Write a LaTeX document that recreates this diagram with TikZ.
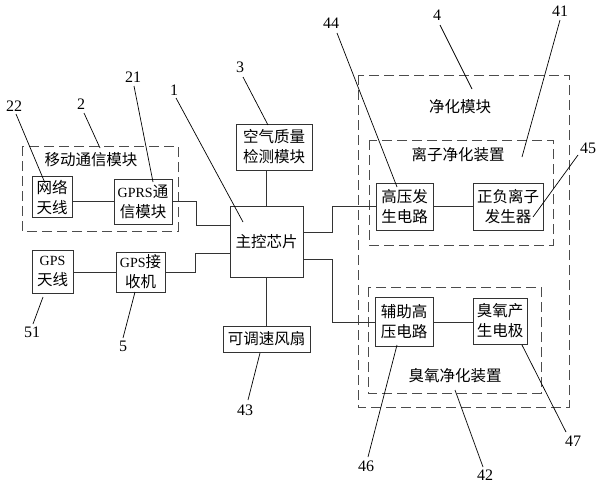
\documentclass[tikz,border=0pt]{standalone}
\usepackage{fontspec}
\setmainfont{Liberation Serif}
\newfontfamily\cjk{Noto Sans CJK SC}
\newcommand\latn[1]{{\rmfamily\fontsize{14}{20}\selectfont #1}}
\usetikzlibrary{calc}
\begin{document}
\begin{tikzpicture}[x=1pt,y=-1pt,
  box/.style={draw=black!80, line width=0.8pt, inner sep=0pt, align=center,
    font=\cjk\fontsize{15.5}{20}\selectfont},
  grp/.style={draw=black!70, line width=0.9pt, dash pattern=on 10pt off 5pt},
  wire/.style={draw=black!80, line width=0.8pt},
  lead/.style={draw=black, line width=0.7pt},
  num/.style={font=\fontsize{16}{16}\selectfont, inner sep=1pt},
  ttl/.style={font=\cjk\fontsize{15.5}{16}\selectfont, inner sep=0pt}]
\useasboundingbox (0,0) rectangle (600,485);
\fill[white] (0,0) rectangle (600,485);

% dashed groups
\draw[grp] (22,146) rectangle (178,231);
\draw[grp] (358,75) rectangle (569,407);
\draw[grp] (369,140) rectangle (553,245);
\draw[grp] (368,287) rectangle (541,393);

% titles
\node[ttl] (t2) at (91,160) {移动通信模块};
\node[ttl] (t4) at (460,107) {净化模块};
\node[ttl] (t41) at (458,155) {离子净化装置};
\node[ttl] (t42) at (455,376) {臭氧净化装置};

% boxes
\node[box, minimum width=40, minimum height=41] (net) at (52,197) {网络\\天线};
\node[box, minimum width=58, minimum height=45] (gprs) at (143,201.5) {\latn{GPRS}通\\信模块};
\node[box, minimum width=41, minimum height=43] (gpsant) at (52.5,271.5) {\latn{GPS}\\天线};
\node[box, minimum width=49, minimum height=40] (gpsrx) at (140.5,272) {\latn{GPS}接\\收机};
\node[box, minimum width=76, minimum height=46] (air) at (274,147) {空气质量\\检测模块};
\node[box, minimum width=73, minimum height=71] (chip) at (266.5,241.5) {主控芯片};
\node[box, minimum width=87, minimum height=26] (fan) at (266.5,339) {可调速风扇};
\node[box, minimum width=57, minimum height=47] (hv) at (404.5,206.5) {高压发\\生电路};
\node[box, minimum width=70, minimum height=47] (ion) at (508,206.5) {正负离子\\发生器};
\node[box, minimum width=58, minimum height=49] (aux) at (404,322) {辅助高\\压电路};
\node[box, minimum width=54, minimum height=46] (ozone) at (500,321) {臭氧产\\生电极};

% wires
\draw[wire] (gprs.west) -- (gprs.west -| net.east);
\draw[wire] (gprs.east) -- ++(24,0) |- ($(chip.north west)!0.28!(chip.south west)$);
\draw[wire] (gpsrx.east) -- ++(30,0) |- ($(chip.north west)!0.66!(chip.south west)$);
\draw[wire] (gpsrx.west) -- (gpsrx.west -| gpsant.east);
\draw[wire] (chip.north) -- (chip.north |- air.south);
\draw[wire] (chip.south) -- (fan.north);
\draw[wire] ($(chip.north east)!0.37!(chip.south east)$) -- ++(29,0) |- (hv.west);
\draw[wire] ($(chip.north east)!0.75!(chip.south east)$) -- ++(29,0) |- (aux.west);
\draw[wire] (hv.east) -- (ion.west);
\draw[wire] (aux.east) -- (aux.east -| ozone.west);

% number labels
\node[num] (n22) at (14,106) {22};
\node[num] (n2) at (81,104) {2};
\node[num] (n21) at (133,77) {21};
\node[num] (n1) at (174,90) {1};
\node[num] (n3) at (240,67) {3};
\node[num] (n44) at (331,23) {44};
\node[num] (n4) at (437,15) {4};
\node[num] (n41) at (560,11) {41};
\node[num] (n45) at (588,148) {45};
\node[num] (n51) at (32,332) {51};
\node[num] (n5) at (123,346) {5};
\node[num] (n43) at (245,410) {43};
\node[num] (n46) at (366,466) {46};
\node[num] (n42) at (485,475) {42};
\node[num] (n47) at (573,441) {47};

% leader start / end points
\coordinate (s22) at (16,114);   \coordinate (e22) at (45,183);
\coordinate (s2) at (84,113);    \coordinate (e2) at (100,148);
\coordinate (s21) at (134,86);   \coordinate (e21) at (153,182);
\coordinate (s1) at (176,98);    \coordinate (e1) at (243,222);
\coordinate (s3) at (243,77);    \coordinate (e3) at (268,125);
\coordinate (s44) at (337,33);   \coordinate (e44) at (397,187);
\coordinate (s4) at (440,25);    \coordinate (e4) at (472,89);
\coordinate (s41) at (560,20);   \coordinate (e41) at (522,157);
\coordinate (s45) at (578,155);  \coordinate (e45) at (533,217);
\coordinate (s51) at (33,324);   \coordinate (e51) at (43,297);
\coordinate (s5) at (123,338);   \coordinate (e5) at (135,292);
\coordinate (s43) at (248,400);  \coordinate (e43) at (260,353);
\coordinate (s46) at (368,457);  \coordinate (e46) at (397,345);
\coordinate (s42) at (483,467);  \coordinate (e42) at (455,390);
\coordinate (s47) at (566,432);  \coordinate (e47) at (522,345);

\foreach \k in {22,2,21,1,3,44,4,41,45,51,5,43,46,42,47}
  \draw[lead] (s\k) -- (e\k);
\end{tikzpicture}
\end{document}
